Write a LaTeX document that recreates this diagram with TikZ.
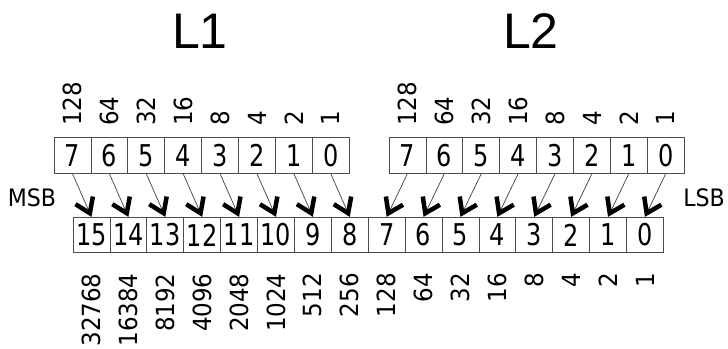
\documentclass[tikz,border=0pt]{standalone}
\usepackage{fontspec}
\setmainfont{DejaVu Sans}[FakeStretch=0.92]
\newfontfamily\bitfont{DejaVu Sans}[FakeStretch=0.8]
\newfontfamily\titlefont{Liberation Sans}
\usetikzlibrary{arrows.meta}

\begin{document}
\begin{tikzpicture}[
    x=1pt, y=-1pt,
    bit/.style={rectangle, draw=black!70, line width=0.8pt, minimum width=36.9pt,
                minimum height=35.5pt, inner sep=0pt, font=\bitfont\fontsize{30}{30}\selectfont},
    weight/.style={rotate=90, inner sep=0pt, font=\fontsize{25}{25}\selectfont},
    side/.style={inner sep=0pt, font=\fontsize{24}{24}\selectfont},
    title/.style={inner sep=0pt, font=\titlefont\fontsize{50}{50}\selectfont},
    link/.style={-{Straight Barb[length=14pt, width=19pt, line width=4.5pt, color=black]},
                 black!75, line width=0.7pt}
]
\useasboundingbox (0,0) rectangle (728,348);

% Titles
\node[title] (t1) at (200,31) {L1};
\node[title] (t2) at (531,31) {L2};

% Source registers L1 and L2
\foreach \v/\w [count=\i from 0] in {7/128,6/64,5/32,4/16,3/8,2/4,1/2,0/1} {
  \node[bit] (a\v) at (72.45+36.9*\i, 155.5) {\v};
  \node[bit] (b\v) at (407.45+36.9*\i, 155.5) {\v};
  \node[weight, anchor=west] (wa\v) at ([yshift=11.5pt]a\v.north) {\w};
  \node[weight, anchor=west] (wb\v) at ([yshift=11.5pt]b\v.north) {\w};
}

% Result register
\foreach \v/\w [count=\i from 0] in {15/32768,14/16384,13/8192,12/4096,11/2048,10/1024,
    9/512,8/256,7/128,6/64,5/32,4/16,3/8,2/4,1/2,0/1} {
  \node[bit] (r\v) at (91.45+36.9*\i, 235) {\v};
  \node[weight, anchor=east] (wr\v) at ([yshift=-20pt]r\v.south) {\w};
}

\node[side] (msb) at (32,198) {MSB};
\node[side] (lsb) at (704,198) {LSB};

% Bit moves
\foreach \v in {0,...,7} {
  \pgfmathtruncatemacro\h{\v+8}
  \draw[link] (a\v.south) -- (r\h.north);
  \draw[link] (b\v.south) -- (r\v.north);
}

\end{tikzpicture}
\end{document}
